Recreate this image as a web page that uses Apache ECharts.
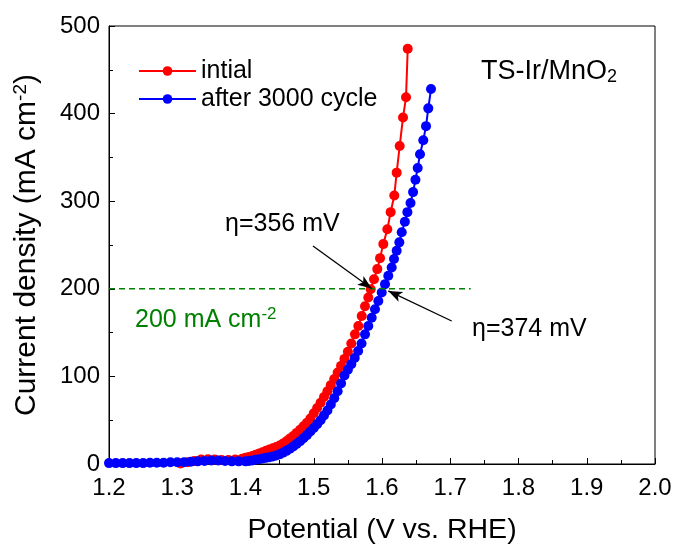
<!DOCTYPE html>
<html><head><meta charset="utf-8">
<script src="https://cdn.jsdelivr.net/npm/echarts@6/dist/echarts.min.js"></script>
<style>html,body{margin:0;padding:0;background:#fff}#c{width:678px;height:545px}</style>
</head><body><div id="c"></div>
<script>
// ---- data ----
const initialPotential = [1.235,1.245,1.255,1.265,1.275,1.285,1.295,1.305,1.315,1.325,1.335,1.345,1.355,1.365,1.375,1.385,1.395,1.400,1.405,1.410,1.415,1.420,1.425,1.430,1.435,1.440,1.445,1.450,1.455,1.460,1.465,1.470,1.475,1.480,1.485,1.490,1.495,1.500,1.505,1.510,1.515,1.520,1.525,1.530,1.535,1.540,1.545,1.550,1.555,1.5604,1.5653,1.5703,1.5751,1.5799,1.5834,1.5883,1.5931,1.5971,1.6019,1.6078,1.6127,1.6180,1.6215,1.6259,1.6308,1.6352,1.6377];
const initialCurrent   = [-4,-4,-3.5,-3,-2.5,-2,-1,0.5,2,3.5,5,5.5,5,4.5,4.5,5,6,7,8,9,10.5,12,13.5,15,16.5,18,19.5,21,23.5,26,29,32,35.5,39,43,47,52,58,64,70,76.5,83,90,97,104.5,112,120,128,137.5,148,157.5,169,180,190,199.5,211,222.5,235,251,268,287.5,306.5,332.6,363,395.6,418.6,474];
const cyclePotential = [1.200,1.210,1.220,1.230,1.240,1.250,1.260,1.270,1.280,1.290,1.300,1.310,1.320,1.330,1.340,1.350,1.360,1.370,1.380,1.390,1.400,1.405,1.410,1.415,1.420,1.425,1.430,1.435,1.440,1.445,1.450,1.455,1.460,1.465,1.470,1.475,1.480,1.485,1.490,1.495,1.500,1.505,1.510,1.515,1.520,1.525,1.530,1.535,1.540,1.545,1.550,1.555,1.560,1.565,1.570,1.5751,1.5799,1.5849,1.5897,1.5946,1.5996,1.6044,1.6092,1.6142,1.6176,1.6215,1.6254,1.6289,1.6335,1.6372,1.6418,1.6455,1.6490,1.6523,1.6557,1.6605,1.6645,1.6678,1.6718];
const cycleCurrent   = [1,1,1,1,1,1,1.5,1.5,1.5,2,2,2,2.5,3,3.5,4,4,3.5,3,3,3,3.5,4,4.8,5.5,6.2,7,7.8,8.5,9.7,11,13,15,17.5,20,23,26,29.5,33,37,41,45.5,50,55.5,61,68,75,83,92,101,107.5,114,121,129,137.5,148,157.5,167,176.6,186,195.8,205.3,214.8,224.4,234,243.5,253,264.6,276.5,287.5,298,310.4,324.5,338,353.6,369.6,385.7,406,428];
const seriesNames = ['intial','after 3000 cycle'];
const xTickLabels = ['1.2','1.3','1.4','1.5','1.6','1.7','1.8','1.9','2.0'];
const yTickLabels = ['0','100','200','300','400','500'];
const refCurrent = 200;            // dashed reference level
const refLineRange = [1.2, 1.73];  // potential span of dashed line
const arrowInitial = [[1.4989, 248.9], [1.5849, 200.3]];
const arrowCycle   = [[1.7021, 163.2], [1.6092, 197.6]];

const F = '"Liberation Sans", Arial, Helvetica, sans-serif';
const pairs = (xs, ys) => xs.map((x, i) => [x, ys[i]]);
const xMin = +xTickLabels[0], xMax = +xTickLabels[xTickLabels.length-1];
const yMin = +yTickLabels[0], yMax = +yTickLabels[yTickLabels.length-1];

const chart = echarts.init(document.getElementById('c'), null, {renderer:'canvas'});
chart.setOption({
  animation:false,
  backgroundColor:'#fff',
  grid:{left:109,right:23,top:26,bottom:81,show:true,borderColor:'#000',borderWidth:1,backgroundColor:'transparent',
        containLabel:false, outerBoundsMode:'none'},
  legend:{
    orient:'vertical', left:138, top:58, padding:0, itemGap:2,
    itemWidth:57, itemHeight:12,
    textStyle:{fontFamily:F,fontSize:25,color:'#000',lineHeight:26},
    data:seriesNames
  },
  xAxis:{
    type:'value', min:xMin, max:xMax, interval:0.1,
    name:'Potential (V vs. RHE)', nameLocation:'middle', nameGap:52,
    nameTextStyle:{fontFamily:F,fontSize:28.5,color:'#000'},
    axisLine:{show:true,lineStyle:{color:'#000',width:1}},
    axisTick:{show:true,inside:true,length:6,lineStyle:{color:'#000'}},
    minorTick:{show:true,splitNumber:2,length:4,lineStyle:{color:'#000'}},
    splitLine:{show:false},
    axisLabel:{fontFamily:F,fontSize:24,color:'#000',margin:12,
      formatter:(v)=>{const s=v.toFixed(1);return xTickLabels.includes(s)?s:'';}}
  },
  yAxis:{
    type:'value', min:yMin, max:yMax, interval:100,
    name:'Current density (mA cm{sup|-2})', nameLocation:'middle', nameGap:66, nameRotate:90,
    nameTextStyle:{fontFamily:F,fontSize:30,color:'#000',
      rich:{sup:{fontFamily:F,fontSize:19,color:'#000',verticalAlign:'top',padding:[0,0,13,0]}}},
    axisLine:{show:true,lineStyle:{color:'#000',width:1}},
    axisTick:{show:true,inside:true,length:6,lineStyle:{color:'#000'}},
    minorTick:{show:true,splitNumber:2,length:4,lineStyle:{color:'#000'}},
    splitLine:{show:false},
    axisLabel:{fontFamily:F,fontSize:24,color:'#000',margin:9,
      formatter:(v)=>{const s=String(Math.round(v));return yTickLabels.includes(s)?s:'';}}
  },
  series:[
    {name:seriesNames[0], type:'line', data:pairs(initialPotential, initialCurrent),
     symbol:'circle', symbolSize:10, showSymbol:true,
     lineStyle:{color:'#ff0000',width:2}, itemStyle:{color:'#ff0000'}, z:2},
    {name:seriesNames[1], type:'line', data:pairs(cyclePotential, cycleCurrent),
     symbol:'circle', symbolSize:10, showSymbol:true,
     lineStyle:{color:'#0000ff',width:2}, itemStyle:{color:'#0000ff'}, z:3},
    {name:'ref', type:'line', data:[[refLineRange[0],refCurrent],[refLineRange[1],refCurrent]],
     symbol:'none', lineStyle:{color:'#008000',width:1.5,type:[6,4]}, z:4, silent:true,
     markLine:{silent:true, symbol:['none','arrow'], symbolSize:[8,14], label:{show:false},
       lineStyle:{color:'#000',width:1.3,type:'solid'},
       data:[
         [{coord:arrowInitial[0]},{coord:arrowInitial[1]}],
         [{coord:arrowCycle[0]},{coord:arrowCycle[1]}]
       ]}}
  ],
  graphic:[
    {type:'text', left:481, top:58, style:{text:'TS-Ir/MnO{sub|2}', fontFamily:F, fontSize:27, fill:'#000',
      rich:{sub:{fontFamily:F,fontSize:18,fill:'#000',verticalAlign:'bottom',padding:[11,0,0,0]}}}},
    {type:'text', left:225, top:212, style:{text:'η=356 mV', fontFamily:F, fontSize:25, fill:'#000'}},
    {type:'text', left:472, top:317, style:{text:'η=374 mV', fontFamily:F, fontSize:25, fill:'#000'}},
    {type:'text', left:135, top:306, style:{text:'200 mA cm{sup|-2}', fontFamily:F, fontSize:25, fill:'#008000',
      rich:{sup:{fontFamily:F,fontSize:17,fill:'#008000',verticalAlign:'top',padding:[0,0,11,0]}}}}
  ]
});
</script></body></html>
